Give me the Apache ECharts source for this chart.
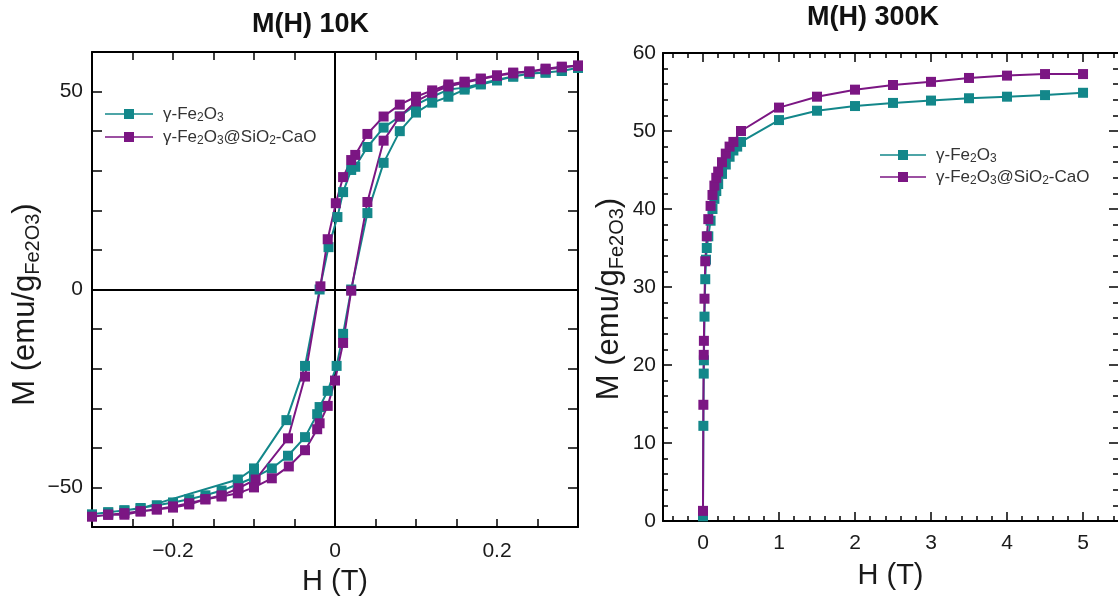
<!DOCTYPE html>
<html>
<head>
<meta charset="utf-8">
<script src="https://cdn.jsdelivr.net/npm/echarts@6/dist/echarts.min.js"></script>
<style>
html,body{margin:0;padding:0;background:#fff;}
#c{width:1118px;height:601px;}
</style>
</head>
<body>
<div id="c"></div>
<script>
// ---------- DATA ----------
const seriesNames = ['γ-Fe2O3', 'γ-Fe2O3@SiO2-CaO'];
const titles = ['M(H) 10K', 'M(H) 300K'];

// 10 K hysteresis, γ-Fe2O3 : descending branch then ascending branch
const H10_fe_down = [0.3,0.28,0.26,0.24,0.22,0.2,0.18,0.16,0.14,0.12,0.1,0.08,0.06,0.04,0.025,0.02,0.01,0.003,-0.008,-0.019,-0.037,-0.06,-0.1,-0.12,-0.24,-0.26,-0.28,-0.3];
const M10_fe_down = [56,55.2,54.8,54.5,53.8,53,52,51,50.5,48.7,46.7,43.7,40.9,36,31,30.2,24.6,18.3,10.7,0,-19.3,-33,-45.2,-48,-55.3,-55.8,-56.3,-56.8];
const H10_fe_up = [-0.28,-0.26,-0.24,-0.22,-0.2,-0.18,-0.16,-0.14,-0.12,-0.1,-0.078,-0.058,-0.037,-0.022,-0.019,-0.009,0.002,0.01,0.02,0.04,0.06,0.08,0.1,0.12,0.14,0.16,0.18,0.2,0.22,0.24,0.26,0.28,0.3];
const M10_fe_up = [-56.3,-55.8,-55.2,-54.5,-53.8,-53,-52,-50.8,-49.2,-47.5,-45.2,-42,-37.3,-31.5,-29.7,-25.6,-19.3,-11.2,0,19.3,32,40,44.7,47.2,48.7,50.5,51.8,52.8,53.8,54.6,54.8,55.2,56];

// 10 K hysteresis, γ-Fe2O3@SiO2-CaO
const H10_si_down = [0.3,0.28,0.26,0.24,0.22,0.2,0.18,0.16,0.14,0.12,0.1,0.08,0.06,0.04,0.025,0.02,0.01,0.001,-0.009,-0.018,-0.037,-0.058,-0.098,-0.119,-0.14,-0.16,-0.18,-0.2,-0.22,-0.24,-0.26,-0.28,-0.3];
const M10_si_down = [56.6,56.3,55.8,55.1,54.8,54.1,53.3,52.5,51.8,50.3,48.7,46.7,43.7,39.3,34,32.7,28.4,21.8,12.7,0.8,-22,-37.6,-48,-50.2,-52,-53,-54,-54.8,-55.5,-56,-56.5,-56.9,-57.4];
const H10_si_up = [-0.28,-0.26,-0.24,-0.22,-0.2,-0.18,-0.16,-0.14,-0.12,-0.1,-0.078,-0.057,-0.037,-0.022,-0.019,-0.009,0,0.01,0.02,0.04,0.06,0.08,0.1,0.12,0.14,0.16,0.18,0.2,0.22,0.24,0.26,0.28,0.3];
const M10_si_up = [-56.9,-56.9,-56.1,-55.6,-55.1,-54.3,-53,-52.3,-51.5,-50,-47.7,-44.7,-40.6,-35.3,-33.8,-29.4,-23,-13.5,-0.3,22.1,37.6,43.7,47.5,49.7,51.3,52.3,53.1,54,54.6,55,55.6,56.1,56.5];

// 300 K magnetisation curves
const H300_fe = [0,0.005,0.01,0.012,0.02,0.03,0.04,0.05,0.07,0.1,0.125,0.15,0.175,0.2,0.25,0.3,0.35,0.4,0.45,0.5,1,1.5,2,2.5,3,3.5,4,4.5,5];
const M300_fe = [0.6,12.2,18.9,20.6,26.2,31,33.5,35,36.5,38.5,40,41.3,42.3,43.2,44.5,45.7,46.7,47.5,48,48.6,51.4,52.6,53.2,53.6,53.9,54.2,54.4,54.6,54.9];
const H300_si = [0,0.005,0.01,0.012,0.02,0.03,0.05,0.07,0.1,0.125,0.15,0.175,0.2,0.25,0.3,0.35,0.4,0.5,1,1.5,2,2.5,3,3.5,4,4.5,5];
const M300_si = [1.3,14.9,21.3,23.1,28.5,33.3,36.5,38.7,40.4,41.8,43,44,44.8,46,47.1,48,48.6,50,53,54.4,55.3,55.9,56.3,56.8,57.1,57.3,57.3];

// tick labels
const xLabels10 = [-0.2, 0, 0.2];
const yLabels10 = [-50, 0, 50];
const xLabels300 = [0, 1, 2, 3, 4, 5];
const xMinor300 = [-0.4,-0.2,0,0.2,0.4,0.6,0.8,1,1.2,1.4,1.6,1.8,2,2.2,2.4,2.6,2.8,3,3.2,3.4,3.6,3.8,4,4.2,4.4,4.6,4.8,5,5.2,5.4];

// ---------- BUILD ----------
function pairs(h, m) { return h.map((v, i) => [v, m[i]]); }
const loopFe = pairs(H10_fe_down, M10_fe_down).concat(pairs(H10_fe_up, M10_fe_up));
const loopSi = pairs(H10_si_down, M10_si_down).concat(pairs(H10_si_up, M10_si_up));

const TEAL = '#13878a';
const PURPLE = '#7b1683';
const COLORS = [TEAL, PURPLE];
const FONT = 'Liberation Sans, Arial, sans-serif';
const INK = '#1a1a1a';

function minus(s) { return String(s).replace('-', '\u2212'); }
function near(v, list) { return list.some(x => Math.abs(x - v) < 1e-6); }

const yName = '{a|M (emu/g}{b|Fe2O3}{a|)}';
function yNameStyle(shift) {
  return {
    padding: [0, shift, 0, 0],
    rich: {
      a: { fontSize: 31, fontFamily: FONT, color: INK, lineHeight: 36 },
      b: { fontSize: 20, fontFamily: FONT, color: INK, lineHeight: 16, verticalAlign: 'bottom' }
    }
  };
}

function legendFmt(name) {
  if (name === seriesNames[0]) return '{n|γ-Fe}{s|2}{n|O}{s|3}';
  return '{n|γ-Fe}{s|2}{n|O}{s|3}{n|@SiO}{s|2}{n|-CaO}';
}
function legendRich(fs) {
  return {
    n: { fontSize: fs, fontFamily: FONT, fill: '#333', color: '#333', lineHeight: 20 },
    s: { fontSize: Math.round(fs * 0.72), fontFamily: FONT, fill: '#333', color: '#333', lineHeight: 10, verticalAlign: 'bottom' }
  };
}
// legend keys (line + square marker + label) for one panel
function legendKeys(x0, ys, w) {
  const out = [];
  seriesNames.forEach((nm, i) => {
    const y = ys[i];
    out.push({ type: 'line', silent: true, shape: { x1: x0, y1: y, x2: x0 + w, y2: y },
      style: { stroke: COLORS[i], lineWidth: 1.6 } });
    out.push({ type: 'rect', silent: true, shape: { x: x0 + w / 2 - 5, y: y - 5, width: 10, height: 10 },
      style: { fill: COLORS[i] } });
    out.push({ type: 'text', silent: true, x: x0 + w + 10, y: y,
      style: { text: legendFmt(nm), rich: legendRich(17), verticalAlign: 'middle', align: 'left',
        fontFamily: FONT, fontSize: 17, fill: '#333' } });
  });
  return out;
}

const axisLineStyle = { color: '#000', width: 2 };
const tickStyle = { color: '#000', width: 1.5 };
const AL = { onZero: false, lineStyle: axisLineStyle };
const ALhide = { show: false, onZero: false };

const option = {
  animation: false,
  graphic: [
    { type: 'text', left: 311 - 59, top: 11,
      style: { text: titles[0], fontSize: 27, fontWeight: 'bold', fontFamily: FONT, fill: '#111' } },
    { type: 'text', left: 875 - 68, top: 4,
      style: { text: titles[1], fontSize: 27, fontWeight: 'bold', fontFamily: FONT, fill: '#111' } }
  ].concat(legendKeys(105, [114, 137], 48)).concat(legendKeys(880, [155, 177], 46)),
  grid: [
    { left: 92, right: 540, top: 52, bottom: 73 },
    { left: 663, right: 0, top: 53, bottom: 80 }
  ],
  xAxis: [
    { gridIndex: 0, type: 'value', position: 'bottom', min: -0.3, max: 0.3, interval: 0.05,
      axisLine: AL, axisTick: { show: true, inside: true, length: 8, lineStyle: tickStyle },
      splitLine: { show: false },
      axisLabel: { margin: 14, fontSize: 21, fontFamily: FONT, color: INK,
        formatter: v => near(v, xLabels10) ? minus(Math.round(v * 10) / 10) : '' },
      name: 'H (T)', nameLocation: 'middle', nameGap: 40,
      nameTextStyle: { fontSize: 29, fontFamily: FONT, color: INK } },
    { gridIndex: 0, type: 'value', position: 'top', min: -0.3, max: 0.3, interval: 0.05,
      axisLine: AL, axisTick: { show: true, inside: true, length: 8, lineStyle: tickStyle },
      splitLine: { show: false }, axisLabel: { show: false } },
    { gridIndex: 1, type: 'value', position: 'bottom', min: -0.526, max: 5.46,
      axisLine: AL,
      axisTick: { show: true, inside: true, length: 9, customValues: xLabels300, lineStyle: tickStyle },
      splitLine: { show: false },
      axisLabel: { customValues: xLabels300, margin: 12, fontSize: 21, fontFamily: FONT, color: INK },
      name: 'H (T)', nameLocation: 'middle', nameGap: 40,
      nameTextStyle: { fontSize: 29, fontFamily: FONT, color: INK } },
    { gridIndex: 1, type: 'value', position: 'bottom', min: -0.526, max: 5.46,
      axisLine: ALhide,
      axisTick: { show: true, inside: true, length: 5, customValues: xMinor300, lineStyle: tickStyle },
      splitLine: { show: false }, axisLabel: { show: false } },
    { gridIndex: 1, type: 'value', position: 'top', min: -0.526, max: 5.46,
      axisLine: AL,
      axisTick: { show: true, inside: true, length: 9, customValues: xLabels300, lineStyle: tickStyle },
      splitLine: { show: false }, axisLabel: { show: false } },
    { gridIndex: 1, type: 'value', position: 'top', min: -0.526, max: 5.46,
      axisLine: ALhide,
      axisTick: { show: true, inside: true, length: 5, customValues: xMinor300, lineStyle: tickStyle },
      splitLine: { show: false }, axisLabel: { show: false } }
  ],
  yAxis: [
    { gridIndex: 0, type: 'value', position: 'left', min: -60, max: 60, interval: 10,
      axisLine: AL, axisTick: { show: true, inside: true, length: 10, lineStyle: tickStyle },
      splitLine: { show: false },
      axisLabel: { margin: 9, fontSize: 21, fontFamily: FONT, color: INK,
        formatter: v => near(v, yLabels10) ? minus(v) : '' },
      name: yName, nameLocation: 'middle', nameGap: 40, nameRotate: 90,
      nameTextStyle: yNameStyle(30) },
    { gridIndex: 0, type: 'value', position: 'right', min: -60, max: 60, interval: 10,
      axisLine: AL, axisTick: { show: true, inside: true, length: 10, lineStyle: tickStyle },
      splitLine: { show: false }, axisLabel: { show: false } },
    { gridIndex: 1, type: 'value', position: 'left', min: 0, max: 60, interval: 10,
      axisLine: AL, axisTick: { show: true, inside: true, length: 9, lineStyle: tickStyle },
      minorTick: { show: true, splitNumber: 5, length: 5, lineStyle: tickStyle },
      splitLine: { show: false }, minorSplitLine: { show: false },
      axisLabel: { margin: 7, fontSize: 21, fontFamily: FONT, color: INK },
      name: yName, nameLocation: 'middle', nameGap: 36, nameRotate: 90,
      nameTextStyle: yNameStyle(24) },
    { gridIndex: 1, type: 'value', position: 'right', min: 0, max: 60, interval: 10,
      axisLine: ALhide, axisTick: { show: true, inside: true, length: 9, lineStyle: tickStyle },
      minorTick: { show: true, splitNumber: 5, length: 5, lineStyle: tickStyle },
      splitLine: { show: false }, minorSplitLine: { show: false }, axisLabel: { show: false } }
  ],
  series: [
    { name: seriesNames[0], type: 'line', xAxisIndex: 0, yAxisIndex: 0, data: loopFe,
      symbol: 'rect', symbolSize: 10, color: TEAL,
      markLine: { silent: true, symbol: ['none', 'none'], z: 1, label: { show: false },
        lineStyle: { color: '#000', width: 2, type: 'solid' },
        data: [{ xAxis: 0 }, { yAxis: 0 }] } },
    { name: seriesNames[1], type: 'line', xAxisIndex: 0, yAxisIndex: 0, data: loopSi,
      symbol: 'rect', symbolSize: 10, color: PURPLE },
    { name: seriesNames[0], type: 'line', xAxisIndex: 2, yAxisIndex: 2, data: pairs(H300_fe, M300_fe),
      symbol: 'rect', symbolSize: 10, color: TEAL },
    { name: seriesNames[1], type: 'line', xAxisIndex: 2, yAxisIndex: 2, data: pairs(H300_si, M300_si),
      symbol: 'rect', symbolSize: 10, color: PURPLE }
  ]
};

const chart = echarts.init(document.getElementById('c'), null, { renderer: 'canvas' });
chart.setOption(option);
</script>
</body>
</html>
